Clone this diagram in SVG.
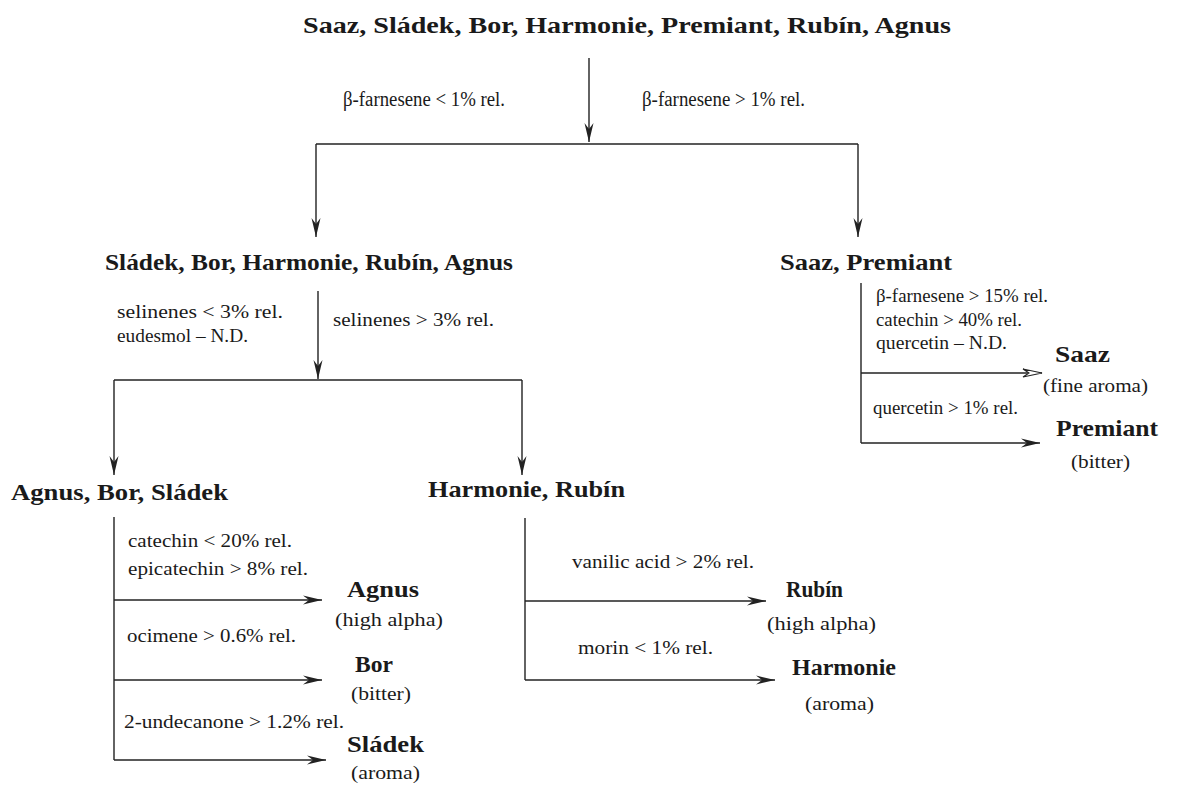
<svg xmlns="http://www.w3.org/2000/svg" width="1181" height="787" viewBox="0 0 1181 787">
<style>
text{font-family:"Liberation Serif","DejaVu Serif",serif;fill:#1a1a1a}
.h{font-weight:bold;font-size:22.5px}
.l{font-size:20px}
.s{font-size:18.5px}
.ln{stroke:#222;stroke-width:1.4;fill:none}
.ar{marker-end:url(#ah)}
.ao{marker-end:url(#ao)}
</style>
<defs>
<marker id="ah" markerUnits="userSpaceOnUse" markerWidth="24" markerHeight="12" viewBox="-20 -6 21 12" refX="0" refY="0" orient="auto">
<path d="M0,0 L-19,-4.5 L-13,0 L-19,4.5 Z" fill="#222"/>
</marker>
<marker id="ao" markerUnits="userSpaceOnUse" markerWidth="24" markerHeight="12" viewBox="-20 -6 21 12" refX="0" refY="0" orient="auto">
<path d="M0,0 L-19,-4 L-13,0 L-19,4 Z" fill="#fff" stroke="#222" stroke-width="1.1"/>
</marker>
</defs>

<g id="connectors">
<line class="ln ar" x1="589" y1="58" x2="589" y2="142"/>
<line class="ln" x1="316" y1="144" x2="858" y2="144"/>
<line class="ln ar" x1="316" y1="144" x2="316" y2="237"/>
<line class="ln ar" x1="858" y1="144" x2="858" y2="237"/>
<line class="ln ar" x1="318" y1="291" x2="318" y2="379"/>
<line class="ln" x1="114" y1="380" x2="522" y2="380"/>
<line class="ln ar" x1="114" y1="380" x2="114" y2="475"/>
<line class="ln ar" x1="522" y1="380" x2="522" y2="475"/>
<line class="ln" x1="114" y1="517" x2="114" y2="760"/>
<line class="ln ar" x1="114" y1="600" x2="322" y2="600"/>
<line class="ln ar" x1="114" y1="680" x2="322" y2="680"/>
<line class="ln ar" x1="114" y1="760" x2="326" y2="760"/>
<line class="ln" x1="525" y1="518" x2="525" y2="680"/>
<line class="ln ar" x1="525" y1="601" x2="766" y2="601"/>
<line class="ln ar" x1="525" y1="680" x2="775" y2="680"/>
<line class="ln" x1="861" y1="283" x2="861" y2="443"/>
<line class="ln ao" x1="861" y1="373" x2="1042" y2="373"/>
<line class="ln ar" x1="861" y1="443" x2="1040" y2="443"/>
</g>

<g id="labels">
<text class="l" x="343" y="106" textLength="162" lengthAdjust="spacingAndGlyphs">β-farnesene &lt; 1% rel.</text>
<text class="l" x="642" y="106" textLength="163" lengthAdjust="spacingAndGlyphs">β-farnesene &gt; 1% rel.</text>
<text class="s" x="117" y="318" textLength="166" lengthAdjust="spacingAndGlyphs">selinenes &lt; 3% rel.</text>
<text class="s" x="117" y="342" textLength="131" lengthAdjust="spacingAndGlyphs">eudesmol – N.D.</text>
<text class="s" x="333" y="326" textLength="161" lengthAdjust="spacingAndGlyphs">selinenes &gt; 3% rel.</text>
<text class="s" x="128" y="547" textLength="164" lengthAdjust="spacingAndGlyphs">catechin &lt; 20% rel.</text>
<text class="s" x="128" y="575" textLength="180" lengthAdjust="spacingAndGlyphs">epicatechin &gt; 8% rel.</text>
<text class="s" x="127" y="642" textLength="169" lengthAdjust="spacingAndGlyphs">ocimene &gt; 0.6% rel.</text>
<text class="s" x="124" y="728" textLength="220" lengthAdjust="spacingAndGlyphs">2-undecanone &gt; 1.2% rel.</text>
<text class="s" x="572" y="568" textLength="182" lengthAdjust="spacingAndGlyphs">vanilic acid &gt; 2% rel.</text>
<text class="s" x="578" y="654" textLength="135" lengthAdjust="spacingAndGlyphs">morin &lt; 1% rel.</text>
<text class="s" x="876" y="302" textLength="172" lengthAdjust="spacingAndGlyphs">β-farnesene &gt; 15% rel.</text>
<text class="s" x="876" y="326" textLength="146" lengthAdjust="spacingAndGlyphs">catechin &gt; 40% rel.</text>
<text class="s" x="876" y="349" textLength="131" lengthAdjust="spacingAndGlyphs">quercetin – N.D.</text>
<text class="s" x="873" y="414" textLength="145" lengthAdjust="spacingAndGlyphs">quercetin &gt; 1% rel.</text>
</g>

<g id="node-all"><text class="h" x="303" y="33" textLength="648" lengthAdjust="spacingAndGlyphs">Saaz, Sládek, Bor, Harmonie, Premiant, Rubín, Agnus</text></g>
<g id="node-sbhra"><text class="h" x="105" y="270" textLength="408" lengthAdjust="spacingAndGlyphs">Sládek, Bor, Harmonie, Rubín, Agnus</text></g>
<g id="node-sp"><text class="h" x="780" y="270" textLength="172" lengthAdjust="spacingAndGlyphs">Saaz, Premiant</text></g>
<g id="node-abs"><text class="h" x="11" y="500" textLength="217" lengthAdjust="spacingAndGlyphs">Agnus, Bor, Sládek</text></g>
<g id="node-hr"><text class="h" x="428" y="497" textLength="197" lengthAdjust="spacingAndGlyphs">Harmonie, Rubín</text></g>
<g id="node-agnus"><text class="h" x="347" y="597" textLength="72" lengthAdjust="spacingAndGlyphs">Agnus</text><text class="s" x="335" y="626" textLength="108" lengthAdjust="spacingAndGlyphs">(high alpha)</text></g>
<g id="node-bor"><text class="h" x="355" y="672" textLength="38" lengthAdjust="spacingAndGlyphs">Bor</text><text class="s" x="351" y="700" textLength="60" lengthAdjust="spacingAndGlyphs">(bitter)</text></g>
<g id="node-sladek"><text class="h" x="347" y="752" textLength="77" lengthAdjust="spacingAndGlyphs">Sládek</text><text class="s" x="351" y="779" textLength="69" lengthAdjust="spacingAndGlyphs">(aroma)</text></g>
<g id="node-rubin"><text class="h" x="786" y="597" textLength="57" lengthAdjust="spacingAndGlyphs">Rubín</text><text class="s" x="767" y="630" textLength="109" lengthAdjust="spacingAndGlyphs">(high alpha)</text></g>
<g id="node-harmonie"><text class="h" x="792" y="675" textLength="104" lengthAdjust="spacingAndGlyphs">Harmonie</text><text class="s" x="805" y="710" textLength="69" lengthAdjust="spacingAndGlyphs">(aroma)</text></g>
<g id="node-saaz"><text class="h" x="1055" y="362" textLength="55" lengthAdjust="spacingAndGlyphs">Saaz</text><text class="s" x="1043" y="392" textLength="105" lengthAdjust="spacingAndGlyphs">(fine aroma)</text></g>
<g id="node-premiant"><text class="h" x="1056" y="436" textLength="102" lengthAdjust="spacingAndGlyphs">Premiant</text><text class="s" x="1071" y="468" textLength="59" lengthAdjust="spacingAndGlyphs">(bitter)</text></g>
</svg>
